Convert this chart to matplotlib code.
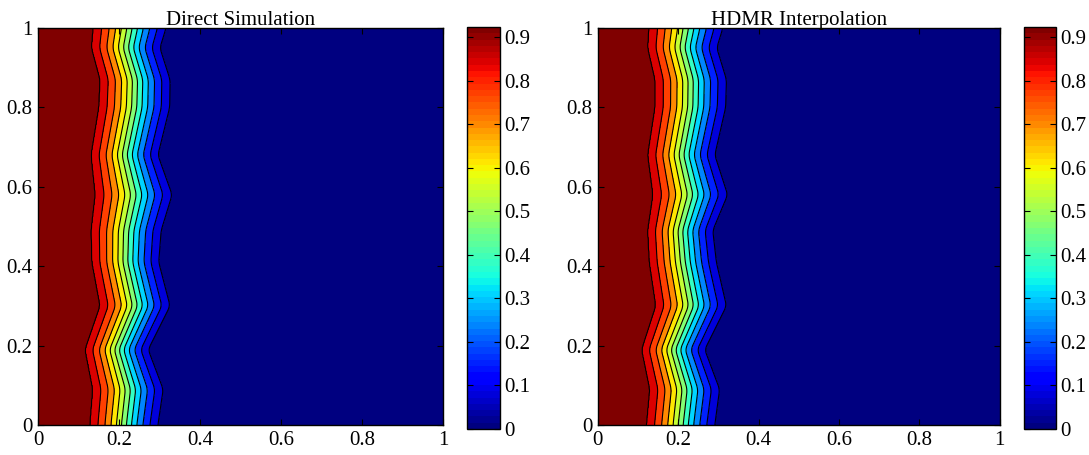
"""Direct simulation vs HDMR interpolation: front contour maps (jet, 0..0.92)."""
import numpy as np
import matplotlib
matplotlib.use("Agg")
import matplotlib.pyplot as plt
from matplotlib.colors import ListedColormap, Normalize
from matplotlib.cm import ScalarMappable
from matplotlib.ticker import FuncFormatter

# front edges: x of the outermost contour lines vs y
Y_KNOTS = [0.0, 0.09, 0.19, 0.30, 0.41, 0.49, 0.58, 0.68, 0.80, 0.87, 0.95, 1.0]
DIRECT_LEFT = [0.128, 0.135, 0.116, 0.153, 0.133, 0.131, 0.141, 0.131, 0.150, 0.153, 0.132, 0.136]
DIRECT_RIGHT = [0.296, 0.309, 0.272, 0.326, 0.298, 0.304, 0.331, 0.296, 0.325, 0.326, 0.301, 0.316]
HDMR_LEFT = [0.121, 0.129, 0.109, 0.144, 0.128, 0.124, 0.137, 0.124, 0.142, 0.142, 0.124, 0.127]
HDMR_RIGHT = [0.291, 0.303, 0.266, 0.320, 0.295, 0.286, 0.323, 0.291, 0.318, 0.320, 0.296, 0.311]

VMAX = 0.923
N_STEPS = 12
TITLES = ["Direct Simulation", "HDMR Interpolation"]
CBAR_TICKS = [0, 0.1, 0.2, 0.3, 0.4, 0.5, 0.6, 0.7, 0.8, 0.9]
AX_TICKS = [0, 0.2, 0.4, 0.6, 0.8, 1]

plt.rcParams["font.family"] = ["Liberation Serif", "DejaVu Serif"]
plt.rcParams["font.size"] = 15

cmap = ListedColormap(plt.get_cmap("jet")(np.linspace(0, 1, 64)))
norm = Normalize(0, VMAX)

# matlab-style bands: each band takes the colour of its lower level,
# the plateau (z == max) gets the top colour
step = VMAX / N_STEPS
line_levels = [step * k for k in range(1, N_STEPS)] + [VMAX * 0.999]
fill_levels = [-1.0] + line_levels + [VMAX + 1.0]
band_colors = [cmap(norm(v)) for v in [0.0] + line_levels[:-1] + [VMAX]]


def edge(y, knots_x):
    e = np.interp(y, Y_KNOTS, knots_x)
    # round off the kinks a little
    w = 9
    pad = np.pad(e, w // 2, mode="edge")
    return np.convolve(pad, np.ones(w) / w, mode="valid")


def field(left, right):
    x = np.linspace(0, 1, 600)
    y = np.linspace(0, 1, 400)
    X, Y = np.meshgrid(x, y)
    lo = edge(y, left)[:, None]
    hi = edge(y, right)[:, None]
    t = (X - lo) / (hi - lo)
    # wider bands near both edges of the front
    g = t - 0.25 * np.sin(2 * np.pi * t) / (2 * np.pi)
    z = VMAX * (1 - (N_STEPS - 1) / N_STEPS * g)
    return X, Y, np.clip(z, 0, VMAX)


def style(ax):
    ax.tick_params(direction="in", top=True, right=True, length=4, width=0.8, pad=4)
    for s in ax.spines.values():
        s.set_linewidth(1.0)


fig = plt.figure(figsize=(10.89, 4.55), dpi=100)
ax_rects = [[0.0349, 0.0659, 0.372, 0.8725], [0.549, 0.0659, 0.369, 0.8725]]
cb_rects = [[0.4288, 0.0571, 0.0303, 0.8835], [0.9403, 0.0571, 0.0294, 0.8835]]
edges = [(DIRECT_LEFT, DIRECT_RIGHT), (HDMR_LEFT, HDMR_RIGHT)]
fmt = FuncFormatter(lambda v, _: "0" if abs(v) < 1e-9 else f"{v:.1f}")

for rect, crect, (lo, hi), title in zip(ax_rects, cb_rects, edges, TITLES):
    ax = fig.add_axes(rect)
    X, Y, Z = field(lo, hi)
    ax.contourf(X, Y, Z, levels=fill_levels, colors=band_colors)
    ax.contour(X, Y, Z, levels=line_levels, colors="k", linewidths=0.8)
    ax.set_xlim(0, 1)
    ax.set_ylim(0, 1)
    ax.set_xticks(AX_TICKS)
    ax.set_yticks(AX_TICKS)
    ax.set_xticklabels(["0", "0.2", "0.4", "0.6", "0.8", "1"])
    ax.set_yticklabels(["0", "0.2", "0.4", "0.6", "0.8", "1"])
    ax.set_title(title, pad=2, fontsize=15)
    style(ax)

    cax = fig.add_axes(crect)
    cb = fig.colorbar(ScalarMappable(norm=norm, cmap=cmap), cax=cax)
    cb.set_ticks(CBAR_TICKS)
    cax.yaxis.set_major_formatter(fmt)
    cax.tick_params(direction="in", left=True, right=True, length=4, width=0.8, pad=3)
    cb.outline.set_linewidth(1.0)

fig.savefig("out.png", dpi=100)
